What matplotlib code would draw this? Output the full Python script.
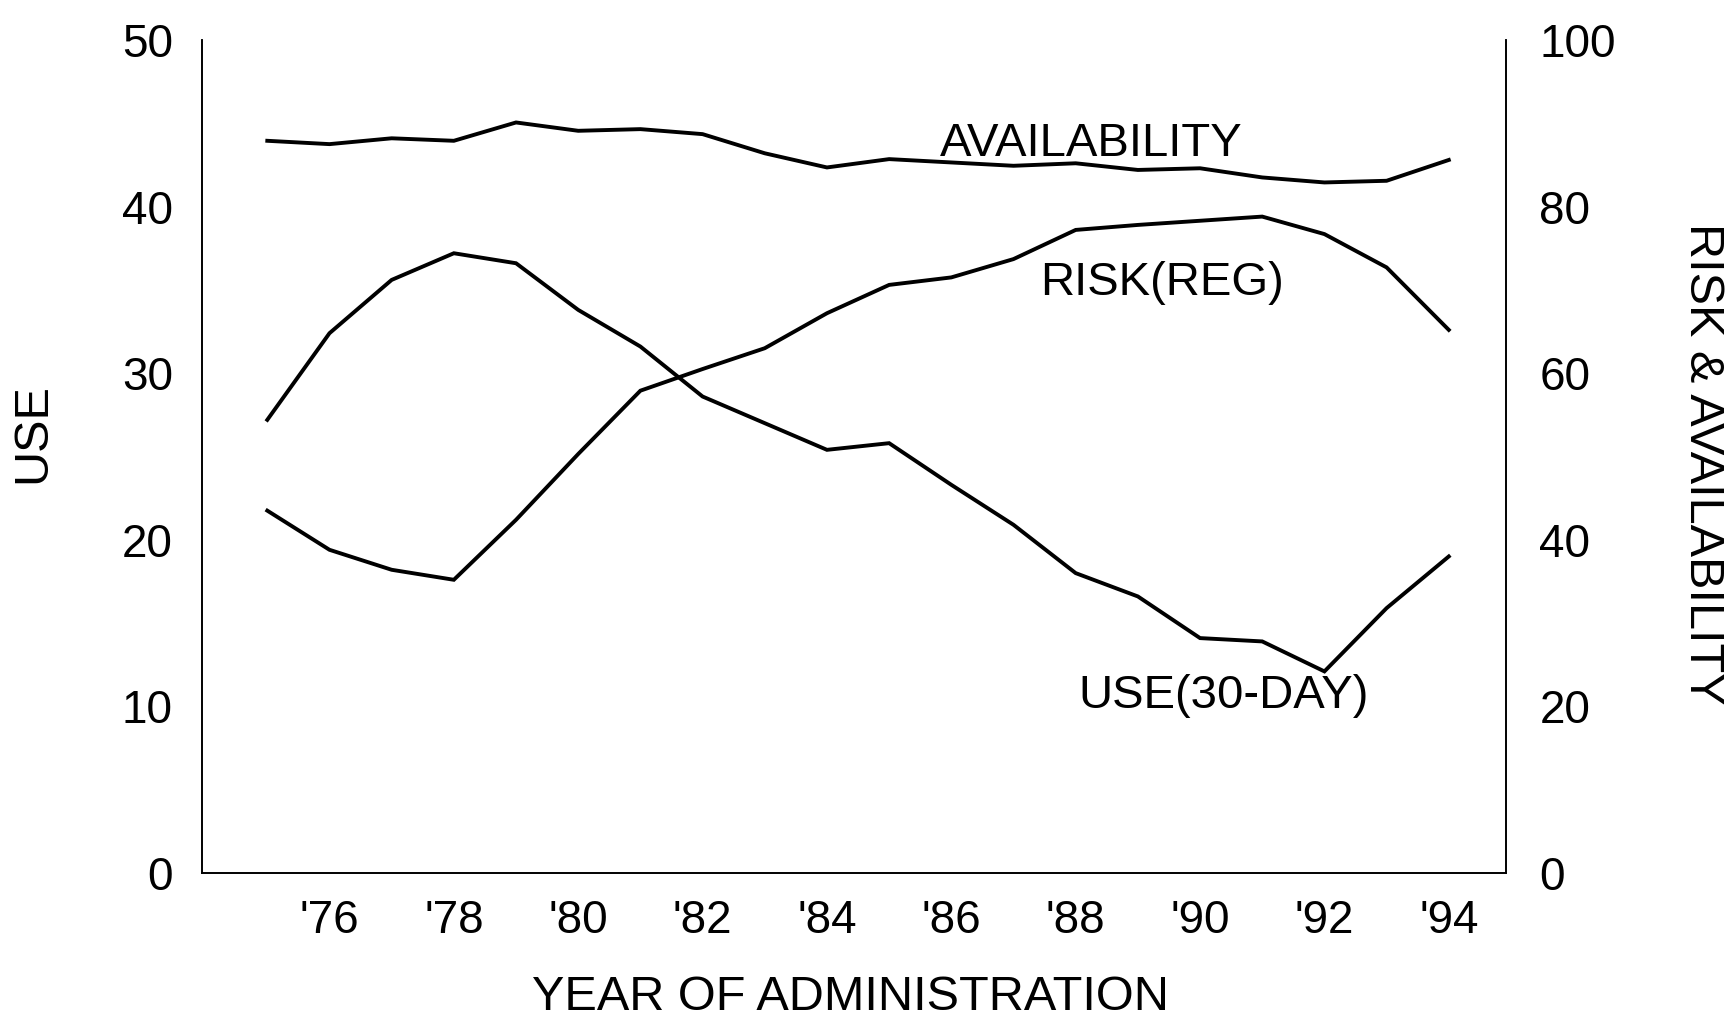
import matplotlib
matplotlib.use("Agg")
import matplotlib.pyplot as plt

plt.rcParams['font.family'] = ['Liberation Sans', 'DejaVu Sans']

years = list(range(1975, 1995))
use_30day = [27.2, 32.4, 35.6, 37.2, 36.6, 33.8, 31.6, 28.6, 27.0, 25.4,
             25.8, 23.3, 20.9, 18.0, 16.6, 14.1, 13.9, 12.1, 15.9, 19.0]
risk_reg = [43.5, 38.8, 36.4, 35.2, 42.4, 50.3, 57.9, 60.5, 63.0, 67.2,
            70.6, 71.5, 73.7, 77.2, 77.8, 78.3, 78.8, 76.7, 72.7, 65.2]
availability = [87.9, 87.5, 88.2, 87.9, 90.1, 89.1, 89.3, 88.7, 86.4, 84.7,
                85.7, 85.3, 84.9, 85.2, 84.4, 84.6, 83.5, 82.9, 83.1, 85.6]

xtick_years = [1976, 1978, 1980, 1982, 1984, 1986, 1988, 1990, 1992, 1994]
xtick_labels = ["'76", "'78", "'80", "'82", "'84", "'86", "'88", "'90", "'92", "'94"]
left_ticks = [0, 10, 20, 30, 40, 50]
right_ticks = [0, 20, 40, 60, 80, 100]

W, H = 1731, 1017
fig = plt.figure(figsize=(W / 100, H / 100), dpi=100)
ax = fig.add_axes([202 / W, 1 - 873 / H, (1506 - 202) / W, (873 - 40) / H])
ax2 = ax.twinx()

lw = 2.8
ax.plot(years, use_30day, color='black', lw=lw, solid_joinstyle='miter')
ax2.plot(years, risk_reg, color='black', lw=lw, solid_joinstyle='miter')
ax2.plot(years, availability, color='black', lw=lw, solid_joinstyle='miter')

ax.set_xlim(1973.95, 1994.92)
ax.set_ylim(0, 50)
ax2.set_ylim(0, 100)

for a in (ax, ax2):
    a.spines['top'].set_visible(False)
    for s in ('left', 'right', 'bottom'):
        a.spines[s].set_linewidth(1.2)
        a.spines[s].set_color('black')

ax.set_xticks(xtick_years)
ax.set_xticklabels(xtick_labels)
ax.set_yticks(left_ticks)
ax2.set_yticks(right_ticks)

ax.tick_params(axis='x', length=0, pad=19, labelsize=33)
ax.tick_params(axis='y', length=0, pad=21, labelsize=33)
ax2.tick_params(axis='y', length=0, pad=24, labelsize=33)

ax.set_xlabel("YEAR OF ADMINISTRATION", fontsize=35, va='baseline')
ax.xaxis.set_label_coords(0.497, -0.1645)
ax.set_ylabel("USE", fontsize=35, va='center')
ax.yaxis.set_label_coords(-0.1296, 0.528)
ax2.set_ylabel("RISK & AVAILABILITY", fontsize=35, rotation=-90, va='center')
ax2.yaxis.set_label_coords(1.151, 0.491)

ax.text(1985.82, 43.05, "AVAILABILITY", fontsize=34, ha='left', va='baseline')
ax.text(1987.43, 34.7, "RISK(REG)", fontsize=34, ha='left', va='baseline')
ax.text(1988.04, 9.9, "USE(30-DAY)", fontsize=34, ha='left', va='baseline')

fig.savefig("out.png", dpi=100)
